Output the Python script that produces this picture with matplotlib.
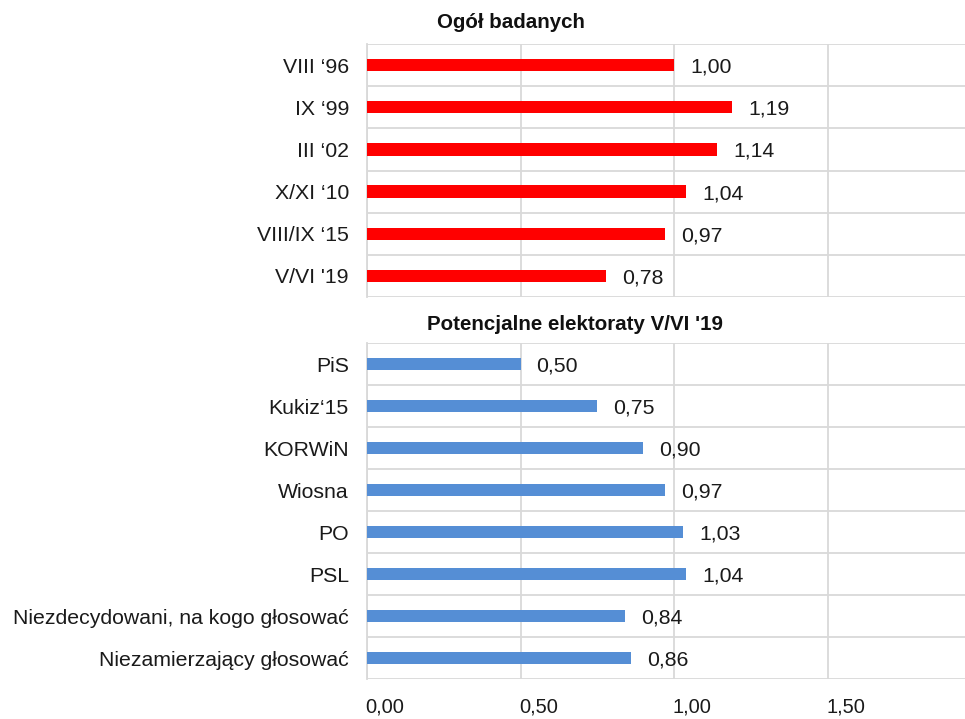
import matplotlib
matplotlib.use("Agg")
import matplotlib.pyplot as plt
import matplotlib.transforms as mtransforms
import numpy as np

plt.rcParams['font.family'] = ['Liberation Sans', 'DejaVu Sans']

top_title = "Ogół badanych"
top_cats = ["VIII \u201896", "IX \u201899", "III \u201802", "X/XI \u201810", "VIII/IX \u201815", "V/VI '19"]
top_vals = [1.00, 1.19, 1.14, 1.04, 0.97, 0.78]

bot_title = "Potencjalne elektoraty V/VI '19"
bot_cats = ["PiS", "Kukiz\u201815", "KORWiN", "Wiosna", "PO", "PSL",
            "Niezdecydowani, na kogo głosować", "Niezamierzający głosować"]
bot_vals = [0.50, 0.75, 0.90, 0.97, 1.03, 1.04, 0.84, 0.86]

xticks = [0.0, 0.5, 1.0, 1.5]
xticklabels = ["0,00", "0,50", "1,00", "1,50"]

W, H = 965, 719
fig = plt.figure(figsize=(W / 100, H / 100), dpi=100)

left = 367 / W
width = (W - 367) / W
xmax = (W - 367) / 307.0
grid_c = "#D9D9D9"
txt_c = "#1a1a1a"
fs = 15.3


def panel(y_top, y_bot, cats, vals, color, title, title_x, title_y, show_x):
    ax = fig.add_axes([left, 1 - y_bot / H, width, (y_bot - y_top) / H])
    n = len(cats)
    y = np.arange(n)
    ax.barh(y, vals, height=0.29, color=color, zorder=3)
    ax.set_xlim(0, xmax)
    ax.set_ylim(n - 0.5, -0.5)
    ax.set_yticks(y)
    ax.set_yticklabels(cats, fontsize=fs, color=txt_c)
    ax.set_yticks(np.arange(-0.5, n), minor=True)
    ax.tick_params(axis='y', which='both', length=0, pad=13)
    ax.grid(axis='y', which='minor', color=grid_c, lw=1.3, zorder=0)
    ax.set_xticks(xticks)
    ax.grid(axis='x', which='major', color=grid_c, lw=1.3, zorder=0)
    for s in ['top', 'right', 'bottom']:
        ax.spines[s].set_visible(False)
    ax.spines['left'].set_color(grid_c)
    ax.spines['left'].set_linewidth(1.3)
    if show_x:
        ax.set_xticklabels(xticklabels, fontsize=14.5, color=txt_c)
        ax.tick_params(axis='x', length=0, pad=13.5)
        off = mtransforms.ScaledTranslation(18 / 100, 0, fig.dpi_scale_trans)
        for lab in ax.get_xticklabels():
            lab.set_transform(lab.get_transform() + off)
    else:
        ax.tick_params(axis='x', length=0, labelbottom=False)
    for yi, v in zip(y, vals):
        ax.annotate(f"{v:.2f}".replace('.', ','), (v, yi), xytext=(16, -2),
                    textcoords='offset pixels', va='center', ha='left',
                    fontsize=fs, color=txt_c)
    fig.text(title_x / W, 1 - title_y / H, title, ha='center', va='center',
             fontsize=14.8, fontweight='bold', color="#111111")
    return ax


panel(44, 297, top_cats, top_vals, "#FF0000", top_title, 511, 22, False)
panel(343, 679, bot_cats, bot_vals, "#558ED5", bot_title, 575, 325, True)

fig.savefig("out.png", dpi=100)
